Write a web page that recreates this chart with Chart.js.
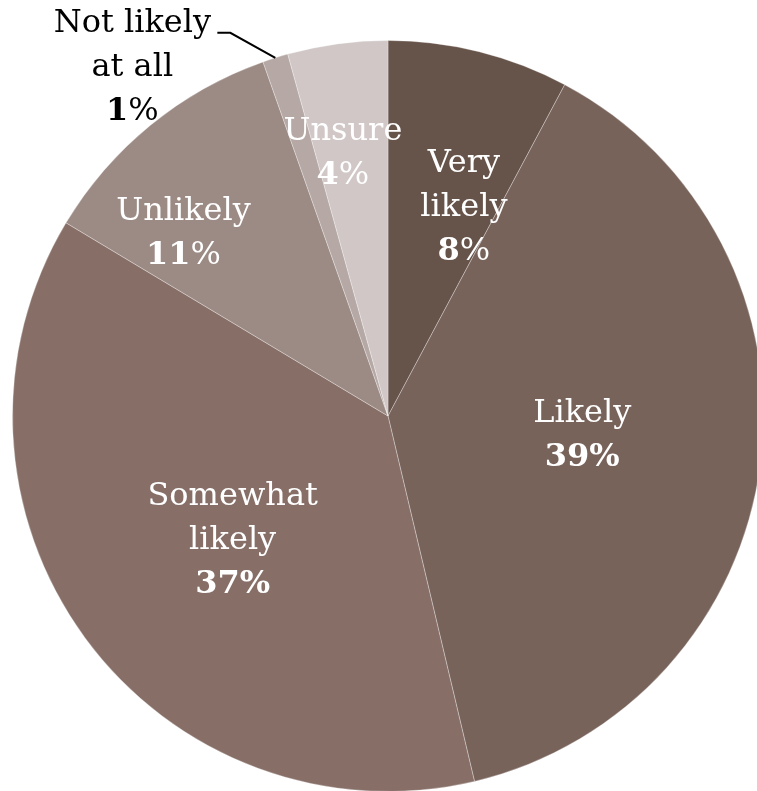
<!DOCTYPE html>
<html>
<head>
<meta charset="utf-8">
<script src="https://cdn.jsdelivr.net/npm/chart.js@4/dist/chart.umd.min.js"></script>
<style>
  html, body { margin: 0; padding: 0; background: #fff; overflow: hidden; }
  #wrap { position: relative; width: 757px; height: 791px; overflow: hidden; }
  #pieChart { position: absolute; left: 12px; top: 0; }
</style>
</head>
<body>
<div id="wrap">
  <canvas id="pieChart" width="752" height="832"></canvas>
</div>
<script>
// categories and shares (%), clockwise from 12 o'clock
const categories = ['Very likely', 'Likely', 'Somewhat likely', 'Unlikely', 'Not likely at all', 'Unsure'];
const shares = [7.8, 38.5, 37.3, 11.0, 1.1, 4.3];
const labelLines = [['Very', 'likely'], ['Likely'], ['Somewhat', 'likely'], ['Unlikely'], ['Not likely', 'at all'], ['Unsure']];
const pctText = ['8', '39', '37', '11', '1', '4'];

const sliceColors = ['#665349', '#78635b', '#876f68', '#9c8a84', '#b5a8a5', '#d0c7c6'];

// label placement: radius fraction and angle nudge (deg); 'outside' for leader-line label
const labelPlace = [
    { r: 0.59, da: 6 },
    { r: 0.52, da: -1.5 },
    { r: 0.53, da: -2.5 },
    { r: 0.73, da: -9 },
    { outside: true },
    { r: 0.71, da: -2 }
];
const boldPercent = [false, true, true, false, false, false];

const FONT = '"DejaVu Serif", serif';
const SIZE = 32;
const LINE = 44;

const pieLabels = {
    id: 'pieLabels',
    afterDatasetsDraw(chart) {
        const ctx = chart.ctx;
        const arcs = chart.getDatasetMeta(0).data;
        ctx.save();
        ctx.textBaseline = 'middle';
        arcs.forEach((arc, i) => {
            const p = arc.getProps(['x', 'y', 'startAngle', 'endAngle', 'outerRadius'], true);
            const mid = (p.startAngle + p.endAngle) / 2;
            const place = labelPlace[i];
            const lines = labelLines[i].slice();
            let cx, cy, color;
            if (place.outside) {
                // leader line from slice edge to the text
                const ex = p.x + Math.cos(mid) * p.outerRadius;
                const ey = p.y + Math.sin(mid) * p.outerRadius;
                const kx = ex - 45, ky = ey - 25;
                ctx.strokeStyle = '#000';
                ctx.lineWidth = 2;
                ctx.beginPath();
                ctx.moveTo(ex, ey);
                ctx.lineTo(kx, ky);
                ctx.lineTo(kx - 13, ky);
                ctx.stroke();
                color = '#000';
                cx = kx - 98;
                cy = ky - 9 + LINE;
            } else {
                const a = mid + place.da * Math.PI / 180;
                cx = p.x + Math.cos(a) * p.outerRadius * place.r;
                cy = p.y + Math.sin(a) * p.outerRadius * place.r;
                color = '#fff';
            }
            const n = lines.length + 1;
            const top = cy - (n - 1) * LINE / 2;
            ctx.fillStyle = color;
            ctx.textAlign = 'center';
            ctx.font = SIZE + 'px ' + FONT;
            lines.forEach((t, k) => ctx.fillText(t, cx, top + k * LINE));
            // percentage: bold digits, % sign regular unless whole thing bold
            const y = top + lines.length * LINE;
            const numFont = 'bold ' + SIZE + 'px ' + FONT;
            const pctFont = (boldPercent[i] ? 'bold ' : '') + SIZE + 'px ' + FONT;
            ctx.font = numFont;
            const w1 = ctx.measureText(pctText[i]).width;
            ctx.font = pctFont;
            const w2 = ctx.measureText('%').width;
            const x0 = cx - (w1 + w2) / 2;
            ctx.textAlign = 'left';
            ctx.font = numFont;
            ctx.fillText(pctText[i], x0, y);
            ctx.font = pctFont;
            ctx.fillText('%', x0 + w1, y);
        });
        ctx.restore();
    }
};

new Chart(document.getElementById('pieChart').getContext('2d'), {
    type: 'pie',
    data: {
        labels: categories,
        datasets: [{
            data: shares,
            backgroundColor: sliceColors,
            borderColor: 'rgba(255, 255, 255, 0.3)',
            borderWidth: 1
        }]
    },
    options: {
        responsive: false,
        animation: false,
        layout: { padding: 0 },
        plugins: {
            legend: { display: false },
            tooltip: { enabled: false }
        }
    },
    plugins: [pieLabels]
});
</script>
</body>
</html>
